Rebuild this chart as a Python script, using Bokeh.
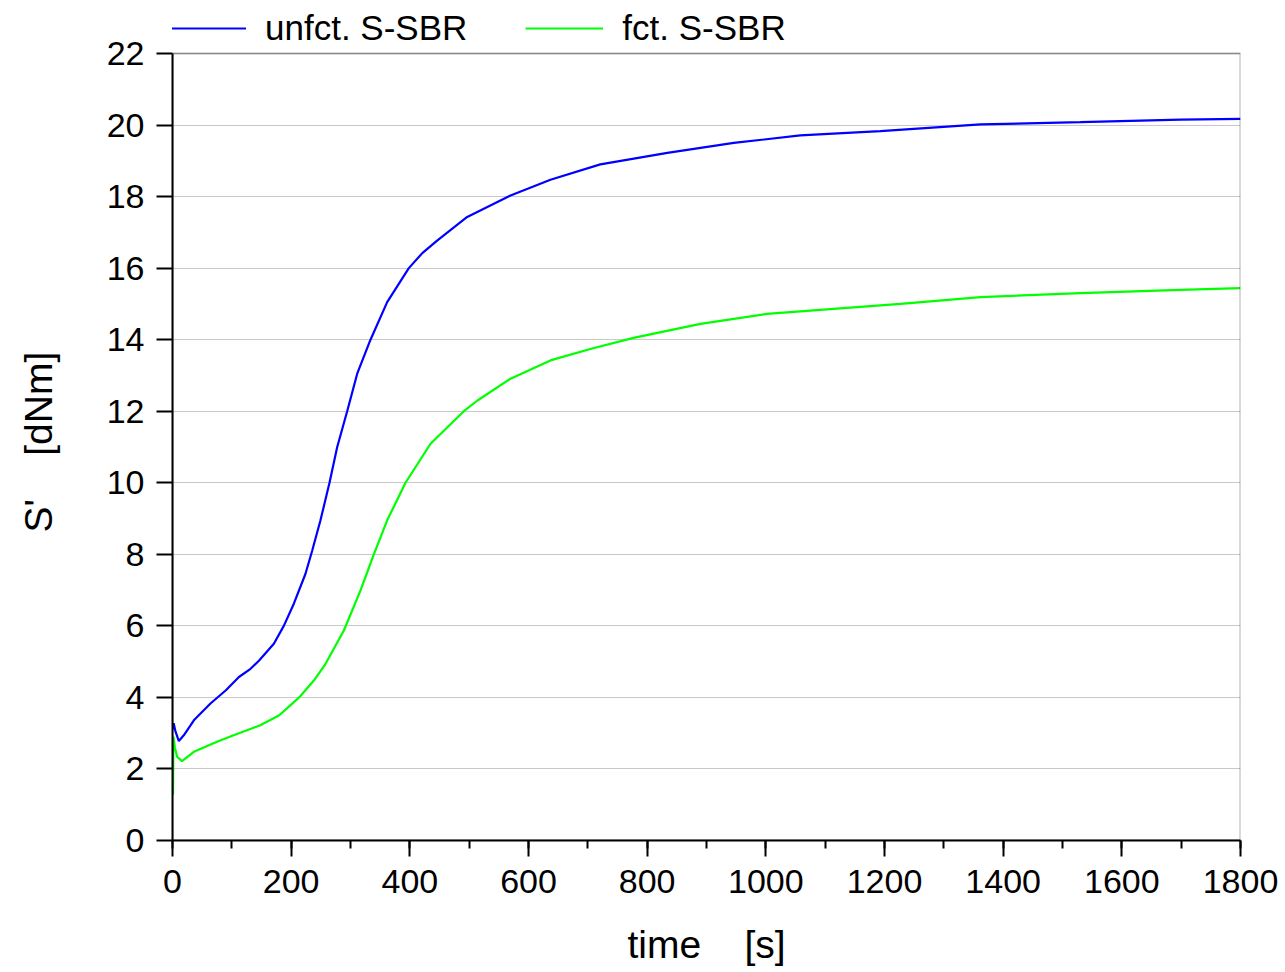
from bokeh.plotting import figure
from bokeh.models import (Legend, LegendItem, SingleIntervalTicker, Range1d, ColumnDataSource,
                          BoxAnnotation)
from bokeh.embed import file_html
from bokeh.resources import INLINE

# ---- data ----
t_unfct = [0, 2, 5, 10.7, 19, 36, 64, 90, 112, 131.5, 146, 170.8, 187.6, 204.5, 224, 235.4, 249.4, 264.6,
           277.6, 294.4, 311.3, 333.7, 361.8, 398.3, 421, 446, 496.7, 569.7, 637, 721, 834, 946, 1058,
           1193, 1362, 1530, 1699, 1800]
s_unfct = [3.1, 3.28, 3.05, 2.78, 2.94, 3.36, 3.83, 4.2, 4.57, 4.8, 5.03, 5.5, 6.0, 6.62, 7.45, 8.1, 8.95, 10.0,
           11.0, 12.0, 13.05, 14.0, 15.05, 16.0, 16.42, 16.77, 17.43, 18.03, 18.47, 18.9, 19.22, 19.5, 19.71,
           19.83, 20.02, 20.08, 20.15, 20.17]

t_fct = [0.8, 1.5, 4, 7.8, 16, 36, 75, 103, 148, 180, 213.5, 238.2, 258, 288.8, 316.9, 339.3, 361.8, 392.7,
         434.9, 491, 514, 569.7, 637, 704, 777, 890, 1002, 1114, 1227, 1362, 1530, 1699, 1800]
s_fct = [1.28, 2.9, 2.6, 2.34, 2.22, 2.48, 2.76, 2.94, 3.22, 3.5, 4.0, 4.47, 4.94, 5.87, 6.99, 8.0, 8.95, 10.0,
         11.09, 12.0, 12.3, 12.91, 13.42, 13.74, 14.05, 14.44, 14.72, 14.86, 15.0, 15.19, 15.3, 15.39, 15.44]

series_labels = ["unfct. S-SBR", "fct. S-SBR"]
x_label = "time \u00a0\u00a0 [s]"
# trailing no-break spaces keep the label centred on the 0..22 box (the frame reaches the canvas top)
y_label = "S' \u00a0\u00a0 [dNm]\u00a0\u00a0\u00a0\u00a0"

X_MIN, X_MAX = 0, 1800
Y_MIN, Y_MAX = 0, 22

FONT = "Liberation Sans"

# the frame reaches the top of the canvas so the legend can sit above the axes box
PX_PER_UNIT = (840 - 53) / (Y_MAX - Y_MIN)
y_top = Y_MIN + 840 / PX_PER_UNIT

p = figure(width=1280, height=970, x_range=Range1d(X_MIN, X_MAX), y_range=Range1d(Y_MIN, y_top),
           output_backend="svg", toolbar_location=None,
           min_border_left=172, min_border_right=40, min_border_top=0, min_border_bottom=130)

p.background_fill_color = "white"
p.border_fill_color = "white"
p.outline_line_color = None

# axes box (0..1800, 0..22)
p.add_layout(BoxAnnotation(left=X_MIN, right=X_MAX, bottom=Y_MIN, top=Y_MAX,
                           fill_alpha=0, line_color="black", line_width=2, level="overlay"))

src1 = ColumnDataSource(dict(t=t_unfct, s=s_unfct))
src2 = ColumnDataSource(dict(t=t_fct, s=s_fct))
r1 = p.line("t", "s", source=src1, line_color="#0000ff", line_width=2.2)
r2 = p.line("t", "s", source=src2, line_color="#00ff00", line_width=2.2)

# axes
for ax in (p.xaxis[0], p.yaxis[0]):
    ax.axis_line_width = 2
    ax.axis_line_color = "black"
    ax.major_tick_line_width = 2
    ax.major_tick_line_color = "black"
    ax.minor_tick_line_width = 2
    ax.minor_tick_line_color = "black"
    ax.major_tick_out = 16
    ax.major_tick_in = 0
    ax.minor_tick_out = 8
    ax.minor_tick_in = 0
    ax.major_label_text_font = FONT
    ax.major_label_text_font_size = "34px"
    ax.major_label_text_color = "black"
    ax.axis_label_text_font = FONT
    ax.axis_label_text_font_size = "39px"
    ax.axis_label_text_font_style = "normal"
    ax.axis_label_text_color = "black"

p.xaxis.ticker = SingleIntervalTicker(interval=200, num_minor_ticks=2)
p.yaxis.ticker = SingleIntervalTicker(interval=2, num_minor_ticks=0)
p.yaxis.bounds = (Y_MIN, Y_MAX)
p.yaxis.minor_tick_line_color = None
p.xaxis.major_label_standoff = 13
p.yaxis.major_label_standoff = 12
p.xaxis.axis_label = x_label
p.yaxis.axis_label = y_label
p.xaxis.axis_label_standoff = 27
p.yaxis.axis_label_standoff = 44

p.xgrid.visible = False
p.ygrid.grid_line_color = "#c8c8c8"
p.ygrid.grid_line_width = 1.2

legend = Legend(items=[LegendItem(label=series_labels[0], renderers=[r1]),
                       LegendItem(label=series_labels[1], renderers=[r2])],
                location=(-4, 792), orientation="horizontal",
                glyph_width=78, glyph_height=20, label_standoff=19, spacing=58,
                padding=0, margin=0, border_line_color=None, background_fill_alpha=0,
                label_text_font=FONT, label_text_font_size="35px", label_text_color="black")
p.add_layout(legend)

open("out.html", "w").write(file_html(p, INLINE))
